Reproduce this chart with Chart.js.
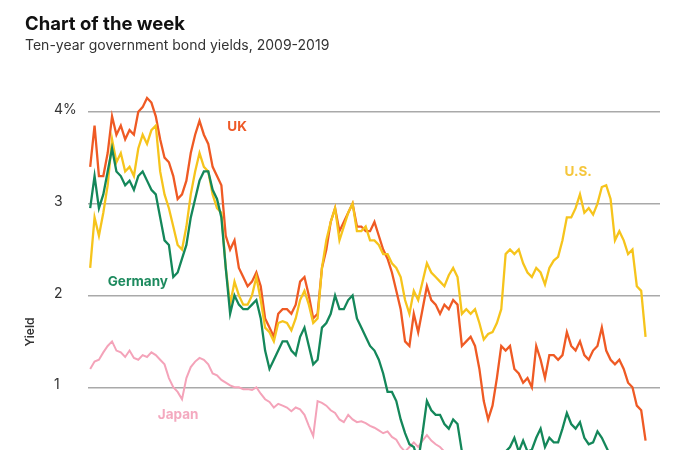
<!DOCTYPE html>
<html>
<head>
<meta charset="utf-8">
<script src="https://cdn.jsdelivr.net/npm/chart.js@4.4.1/dist/chart.umd.min.js"></script>
<style>
html, body { margin: 0; padding: 0; background: #fff; overflow: hidden; width: 700px; height: 450px; }
#wrap { position: relative; width: 700px; height: 450px; overflow: hidden; }
#cv { position: absolute; left: 0; top: 0; }
#title { position: absolute; left: 25px; top: 14px; font: 700 18.5px/18.5px Inter, sans-serif; color: #111; }
#sub { position: absolute; left: 25px; top: 38px; font: 400 14px/14px Inter, sans-serif; color: #333; }
</style>
</head>
<body>
<div id="wrap">
    <canvas id="cv" width="700" height="600" style="width:700px;height:600px"></canvas>
    <div id="title">Chart of the week</div>
    <div id="sub">Ten-year government bond yields, 2009-2019</div>
</div>
<script>
// months Jan 2009 .. Aug 2019
var months = [];
for (var yr = 2009; yr <= 2019; yr++) {
    for (var mo = 1; mo <= 12; mo++) {
        if (yr == 2019 && mo > 8) break;
        months.push(yr + "-" + (mo < 10 ? "0" + mo : mo));
    }
}

var usYield = [2.3,2.85,2.65,2.9,3.2,3.7,3.45,3.55,3.35,3.4,3.3,3.6,
    3.75,3.65,3.8,3.85,3.35,3.1,2.95,2.75,2.55,2.5,2.75,3.1,
    3.35,3.55,3.4,3.35,3.1,2.95,2.9,2.3,1.9,2.15,2.0,1.9,
    1.9,2.0,2.2,1.95,1.65,1.6,1.5,1.7,1.72,1.7,1.62,1.75,
    1.95,2.05,1.9,1.7,1.75,2.3,2.6,2.8,2.95,2.6,2.75,2.9,
    3.0,2.7,2.7,2.75,2.6,2.6,2.55,2.45,2.45,2.35,2.3,2.2,
    1.95,1.8,2.05,1.95,2.15,2.35,2.25,2.2,2.15,2.1,2.22,2.3,
    2.2,1.8,1.85,1.8,1.85,1.7,1.52,1.58,1.6,1.7,1.85,2.45,
    2.5,2.45,2.5,2.35,2.25,2.2,2.3,2.25,2.12,2.3,2.38,2.42,
    2.6,2.85,2.85,2.95,3.1,2.9,2.95,2.88,3.0,3.18,3.2,3.05,
    2.6,2.7,2.6,2.45,2.5,2.1,2.05,1.55];

var ukYield = [3.4,3.85,3.3,3.3,3.55,3.95,3.75,3.85,3.7,3.8,3.75,4.0,
    4.05,4.15,4.1,3.95,3.7,3.5,3.45,3.3,3.05,3.1,3.25,3.55,
    3.75,3.9,3.75,3.65,3.4,3.3,3.2,2.65,2.5,2.6,2.3,2.2,
    2.1,2.15,2.25,2.1,1.75,1.65,1.55,1.8,1.85,1.85,1.8,1.9,
    2.15,2.2,2.0,1.75,1.8,2.3,2.5,2.8,2.95,2.7,2.8,2.9,
    3.0,2.75,2.75,2.7,2.7,2.8,2.65,2.5,2.4,2.25,2.05,1.85,
    1.5,1.45,1.8,1.6,1.85,2.1,1.95,1.9,1.8,1.9,1.85,1.95,
    1.9,1.45,1.5,1.55,1.45,1.2,0.85,0.65,0.8,1.1,1.45,1.4,
    1.45,1.2,1.15,1.05,1.1,1.0,1.45,1.3,1.1,1.35,1.35,1.3,
    1.35,1.6,1.45,1.4,1.5,1.35,1.3,1.4,1.45,1.65,1.4,1.3,
    1.25,1.3,1.2,1.05,1.0,0.8,0.75,0.42];

var germanyYield = [2.95,3.3,2.95,3.1,3.35,3.6,3.35,3.3,3.2,3.25,3.15,3.3,
    3.35,3.25,3.15,3.1,2.85,2.6,2.55,2.2,2.25,2.4,2.55,2.85,
    3.05,3.25,3.35,3.35,3.15,3.05,2.85,2.3,1.8,2.0,1.9,1.85,
    1.85,1.9,1.95,1.75,1.4,1.2,1.3,1.4,1.5,1.5,1.4,1.35,
    1.55,1.65,1.45,1.25,1.3,1.65,1.7,1.8,2.0,1.85,1.85,1.95,
    2.0,1.75,1.65,1.55,1.45,1.4,1.3,1.15,0.95,0.95,0.85,0.65,
    0.5,0.38,0.35,0.2,0.5,0.85,0.75,0.7,0.7,0.6,0.55,0.65,
    0.6,0.3,0.15,0.15,0.2,0.05,-0.15,-0.1,-0.1,0.0,0.15,0.3,
    0.35,0.45,0.3,0.42,0.3,0.32,0.45,0.55,0.35,0.45,0.4,0.4,
    0.55,0.72,0.6,0.55,0.62,0.45,0.38,0.4,0.52,0.45,0.35,0.25,
    0.2,0.15,-0.05,0.0,-0.15,-0.3,-0.35,-0.6];

var japanYield = [1.2,1.28,1.3,1.38,1.45,1.5,1.4,1.38,1.33,1.4,1.32,1.3,
    1.35,1.33,1.38,1.35,1.3,1.25,1.1,1.0,0.95,0.87,1.1,1.22,
    1.28,1.32,1.3,1.25,1.15,1.13,1.08,1.05,1.02,1.0,1.0,0.98,
    0.98,0.97,1.0,0.93,0.87,0.84,0.78,0.82,0.8,0.78,0.74,0.78,
    0.76,0.7,0.58,0.47,0.85,0.83,0.8,0.75,0.72,0.65,0.62,0.7,
    0.65,0.62,0.63,0.61,0.58,0.56,0.53,0.5,0.52,0.46,0.43,0.35,
    0.3,0.35,0.4,0.35,0.42,0.48,0.42,0.38,0.35,0.3,0.3,0.27,
    0.1,-0.05,-0.05,-0.1,-0.1,-0.2,-0.25,-0.1,-0.08,-0.06,0.02,0.05,
    0.08,0.08,0.07,0.02,0.04,0.06,0.08,0.05,0.0,0.06,0.05,0.05,
    0.08,0.05,0.04,0.05,0.04,0.03,0.05,0.1,0.13,0.14,0.1,0.03,
    0.0,-0.03,-0.08,-0.05,-0.1,-0.15,-0.15,-0.27];

var yTicks = [0, 1, 2, 3, 4];
var yTickLabels = ["0", "1", "2", "3", "4%"];

// series name labels, placed in data space [month index, yield]
var seriesLabels = [
    { text: "UK", at: [33.6, 3.83], color: "#ee5a28" },
    { text: "U.S.", at: [111.6, 3.34], color: "#f5c63c" },
    { text: "Germany", at: [10.9, 2.15], color: "#1d8a5e" },
    { text: "Japan", at: [20.1, 0.7], color: "#f4a9bf" }
];

function toPoints(arr) {
    return arr.map(function (v, i) { return { x: i, y: v }; });
}

var labelPlugin = {
    id: "seriesLabels",
    afterDatasetsDraw: function (chart) {
        var ctx = chart.ctx;
        var xs = chart.scales.x, ys = chart.scales.y;
        ctx.save();
        ctx.font = "bold 13.5px Inter";
        ctx.textAlign = "center";
        ctx.textBaseline = "middle";
        seriesLabels.forEach(function (l) {
            ctx.fillStyle = l.color;
            ctx.fillText(l.text, xs.getPixelForValue(l.at[0]), ys.getPixelForValue(l.at[1]));
        });
        // axis title
        ctx.translate(30, 332);
        ctx.rotate(-Math.PI / 2);
        ctx.font = "600 12px Inter";
        ctx.fillStyle = "#333333";
        ctx.fillText("Yield", 0, 0);
        ctx.restore();
    }
};

function lineSet(label, data, color, width, order) {
    return {
        label: label,
        data: toPoints(data),
        borderColor: color,
        borderWidth: width,
        pointRadius: 0,
        tension: 0,
        fill: false,
        order: order
    };
}

var myChart = new Chart(document.getElementById("cv"), {
    type: "line",
    data: {
        labels: months,
        datasets: [
            lineSet("Japan", japanYield, "#f4a3b9", 2, 3),
            lineSet("UK", ukYield, "#ef5a24", 2.3, 2),
            lineSet("U.S.", usYield, "#f6c41c", 2.3, 1),
            lineSet("Germany", germanyYield, "#14875a", 2.3, 0)
        ]
    },
    options: {
        responsive: false,
        animation: false,
        layout: { padding: { left: 54, right: 40, top: 75, bottom: 29 } },
        plugins: { legend: { display: false }, tooltip: { enabled: false } },
        scales: {
            x: {
                type: "linear",
                min: -0.5,
                max: 130.3,
                display: false
            },
            y: {
                min: -1,
                max: 4.4,
                afterBuildTicks: function (scale) {
                    scale.ticks = yTicks.map(function (v) { return { value: v }; });
                },
                afterFit: function (scale) { scale.width = 34; },
                border: { display: false },
                grid: { color: "#a9a9a9", lineWidth: 1.5, drawTicks: false },
                ticks: {
                    crossAlign: "far",
                    labelOffset: -2,
                    color: "#333333",
                    font: { family: "Inter", size: 14 },
                    callback: function (v) { return yTickLabels[yTicks.indexOf(v)]; }
                }
            }
        }
    },
    plugins: [labelPlugin]
});
</script>
</body>
</html>
